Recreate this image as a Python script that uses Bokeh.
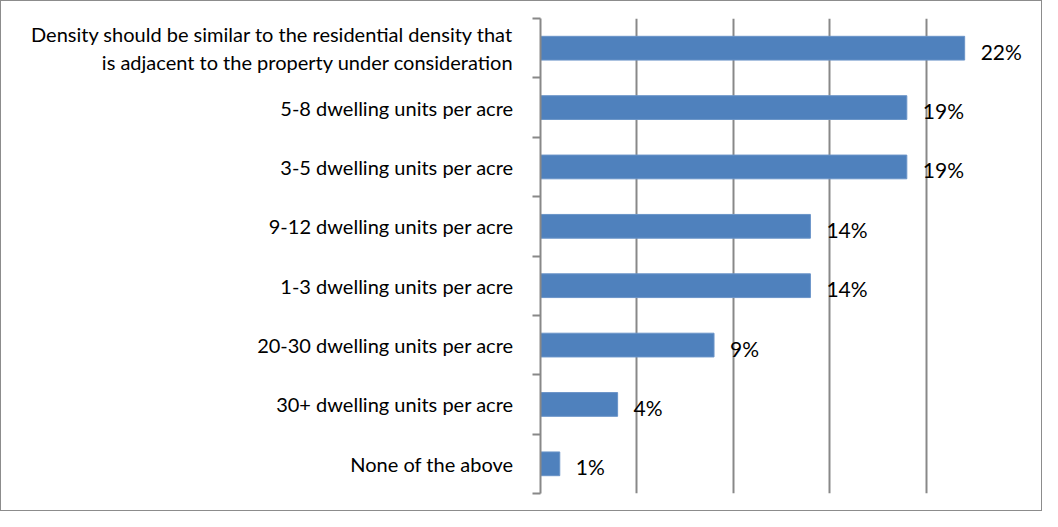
from bokeh.plotting import figure
from bokeh.models import ColumnDataSource, LabelSet, FixedTicker, Range1d
from bokeh.core.properties import value
from bokeh.embed import file_html
from bokeh.resources import INLINE

categories = [
    "Density should be similar to the residential density that\nis adjacent to the property under consideration",
    "5-8 dwelling units per acre",
    "3-5 dwelling units per acre",
    "9-12 dwelling units per acre",
    "1-3 dwelling units per acre",
    "20-30 dwelling units per acre",
    "30+ dwelling units per acre",
    "None of the above",
]
values = [22, 19, 19, 14, 14, 9, 4, 1]
value_labels = ["22%", "19%", "19%", "14%", "14%", "9%", "4%", "1%"]

n = len(categories)
ypos = [n - i - 0.5 for i in range(n)]

src = ColumnDataSource(dict(y=ypos, v=values, vl=value_labels))

W, H = 1042, 511
p = figure(width=W, height=H, output_backend="svg", toolbar_location=None,
           x_range=Range1d(0, 25), y_range=Range1d(0, n),
           min_border_left=539, min_border_right=21,
           min_border_top=17, min_border_bottom=19)
p.outline_line_color = None
p.background_fill_color = "white"
p.border_fill_color = "white"

p.hbar(y="y", right="v", left=0, height=0.4, source=src,
       fill_color="#4F81BD", line_color="#6a94c8", line_width=1)

p.xaxis.visible = False
p.xgrid.ticker = FixedTicker(ticks=[5, 10, 15, 20, 25])
p.xgrid.grid_line_color = "#888888"
p.xgrid.grid_line_width = 2
p.ygrid.grid_line_color = None

# y axis: labels at category centres, tick marks at category boundaries
p.yaxis.ticker = FixedTicker(ticks=ypos, minor_ticks=list(range(n + 1)))
p.yaxis.major_label_overrides = {y: c for y, c in zip(ypos, categories)}
p.yaxis.major_label_text_font = "Lato"
p.yaxis.major_label_text_font_size = "20px"
p.yaxis.major_label_text_color = "black"
p.yaxis.major_label_text_line_height = 1.15
p.yaxis.major_label_standoff = 19
p.yaxis.axis_line_color = "#888888"
p.yaxis.axis_line_width = 2
p.yaxis.major_tick_line_color = None
p.yaxis.major_tick_out = 0
p.yaxis.major_tick_in = 0
p.yaxis.minor_tick_line_color = "#888888"
p.yaxis.minor_tick_line_width = 2
p.yaxis.minor_tick_out = 8
p.yaxis.minor_tick_in = 0

vals = LabelSet(x="v", y="y", text="vl", source=src, x_offset=16, y_offset=-3,
                text_align="left", text_baseline="middle",
                text_font=value("Lato"), text_font_size=value("21px"),
                text_color="black")
p.add_layout(vals)

p.styles = {"border": "1px solid #8c8c8c", "box-sizing": "border-box"}

open("out.html", "w").write(file_html(p, INLINE))
